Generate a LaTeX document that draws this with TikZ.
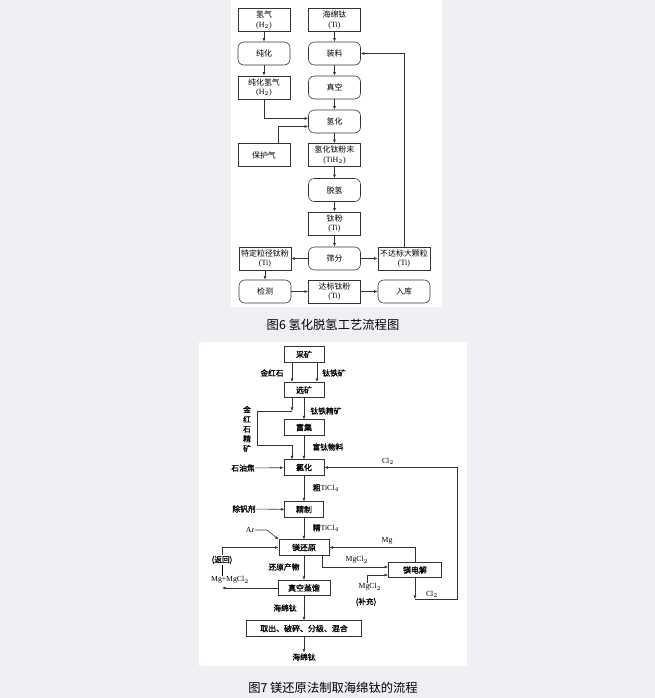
\documentclass[tikz,border=0pt]{standalone}
\usepackage{fontspec}
\setmainfont{Liberation Serif}
\newfontfamily\cjk{Noto Sans CJK SC}
\newfontfamily\cjkb[FakeBold=1.2]{Noto Sans CJK SC}
\usetikzlibrary{arrows.meta,positioning,calc}
\definecolor{bgc}{HTML}{EEF0F4}
\definecolor{ln}{HTML}{333333}
\newcommand{\latn}[1]{{\rmfamily #1}}

\tikzset{
  box/.style={draw=ln, line width=0.5pt, minimum width=1.56cm, minimum height=0.69cm, align=center, inner sep=1pt, font=\cjk\fontsize{6.8}{7.8}\selectfont},
  rbox/.style={box, rounded corners=5pt},
  sbox/.style={draw=ln, line width=0.6pt, minimum height=0.46cm, inner sep=1pt, font=\cjkb\fontsize{6.8}{7.5}\selectfont},
  lbl/.style={inner sep=0.5pt, align=center, font=\cjkb\fontsize{6.6}{7.4}\selectfont},
  arr/.style={draw=ln, line width=0.5pt, -{Latex[length=3pt,width=2.4pt]}},
  figcap/.style={font=\cjk\fontsize{10.5}{12}\selectfont},
}

\begin{document}
\begin{tikzpicture}[x=0.03cm, y=-0.03cm]
% background and panels
\fill[bgc] (0,0) rectangle (655,698);
\fill[white] (231,0) rectangle (442,307);
\fill[white] (199,342) rectangle (467,666);

% Figure 6: left column
\node[box] (h2) at (264,20) {氢气\\\latn{(H$_2$)}};
\node[rbox] (chun) at (264,53.5) {纯化};
\node[box] (chunh2) at (264,87.5) {纯化氢气\\\latn{(H$_2$)}};
\node[box] (baohu) at (264,155) {保护气};
\node[box] (teding) at (265,258.5) {特定粒径钛粉\\\latn{(Ti)}};
\node[rbox] (jiance) at (265,291.5) {检测};

% Figure 6: middle column
\node[box] (haimian) at (334.5,20) {海绵钛\\\latn{(Ti)}};
\node[rbox] (zhuang) at (334.5,53.5) {装料};
\node[rbox] (zhenkong) at (334.5,87.5) {真空};
\node[rbox] (qinghua) at (334.5,121.5) {氢化};
\node[box] (tih2) at (334.5,155) {氢化钛粉末\\\latn{(TiH$_2$)}};
\node[rbox] (tuoqing) at (334.5,190) {脱氢};
\node[box] (tifen) at (334.5,223.5) {钛粉\\\latn{(Ti)}};
\node[rbox] (shaifen) at (334.5,258.5) {筛分};
\node[box] (dabiao) at (334.5,291.5) {达标钛粉\\\latn{(Ti)}};

% Figure 6: right column
\node[box] (buda) at (404,258.5) {不达标大颗粒\\\latn{(Ti)}};
\node[rbox] (ruku) at (404,291.5) {入库};

\node[figcap] (cap1) at (333,325) {图6 氢化脱氢工艺流程图};

% Figure 6: connectors
\draw[arr] (h2) -- (chun);
\draw[arr] (chun) -- (chunh2);
\draw[arr] (haimian) -- (zhuang);
\draw[arr] (zhuang) -- (zhenkong);
\draw[arr] (zhenkong) -- (qinghua);
\draw[arr] (qinghua) -- (tih2);
\draw[arr] (tih2) -- (tuoqing);
\draw[arr] (tuoqing) -- (tifen);
\draw[arr] (tifen) -- (shaifen);
\draw[arr] (chunh2.south) |- (qinghua.west |- 0,118.5);
\draw[arr] (baohu.north -| 278,0) |- (qinghua.west |- 0,126.5);
\draw[arr] (shaifen) -- (teding);
\draw[arr] (shaifen) -- (buda);
\draw[arr] (teding) -- (jiance);
\draw[arr] (jiance) -- (dabiao);
\draw[arr] (dabiao) -- (ruku);
\draw[arr] (buda.north) |- (zhuang.east);

% Figure 7: main chain
\node[sbox, minimum width=1.2cm] (caikuang) at (304,354.5) {采矿};
\node[sbox, minimum width=1.2cm] (xuankuang) at (304,390) {选矿};
\node[sbox, minimum width=1.2cm] (fuji) at (304,427.5) {富集};
\node[sbox, minimum width=1.2cm] (lvhua) at (304,467.5) {氯化};
\node[sbox, minimum width=1.15cm] (jingzhi) at (304,509.5) {精制};
\node[sbox, minimum width=1.5cm] (mghy) at (304,547.5) {镁还原};
\node[sbox, minimum width=1.56cm] (zkzl) at (304,588) {真空蒸馏};
\node[sbox, minimum width=3.45cm] (quchu) at (304,628.5) {取出、破碎、分级、混合};
\node[sbox, minimum width=1.59cm] (mgdj) at (415,570) {镁电解};

% Figure 7: labels
\node[lbl] (jhs) at (272,373) {金红石};
\node[lbl] (ttk) at (334,373) {钛铁矿};
\node[lbl] (ttjk) at (326,411) {钛铁精矿};
\node[lbl, font=\cjkb\fontsize{6.6}{8.3}\selectfont] (jhsjk) at (247,429) {金\\红\\石\\精\\矿};
\node[lbl] (ftwl) at (328,447) {富钛物料};
\node[lbl] (syj) at (243,468) {石油焦};
\node[lbl] (cl2a) at (388,461) {\latn{Cl$_2$}};
\node[lbl] (cutic) at (326,488) {粗\latn{TiCl$_4$}};
\node[lbl] (cfj) at (244,509) {除钒剂};
\node[lbl] (jtic) at (326,528) {精\latn{TiCl$_4$}};
\node[lbl] (ar) at (250,530) {\latn{Ar}};
\node[lbl] (fanhui) at (222,560) {(返回)};
\node[lbl] (mgmg) at (230,580) {\latn{Mg+MgCl$_2$}};
\node[lbl] (hycw) at (284,567) {还原产物};
\node[lbl] (mgcla) at (357,560) {\latn{MgCl$_2$}};
\node[lbl] (mg) at (387,541) {\latn{Mg}};
\node[lbl] (mgclb) at (370,587) {\latn{MgCl$_2$}};
\node[lbl] (buchong) at (366,602) {(补充)};
\node[lbl] (cl2b) at (432,594) {\latn{Cl$_2$}};
\node[lbl] (hmt) at (285,608) {海绵钛};
\node[lbl] (hmtout) at (304,657) {海绵钛};

\node[figcap] (cap2) at (333,688) {图7 镁还原法制取海绵钛的流程};

% Figure 7: connectors
\coordinate (c1) at (292,411);
\coordinate (c2) at (257,411);
\coordinate (c3) at (257,445);
\coordinate (c5) at (415,599);
\coordinate (c6) at (457,599);
\draw[arr] (caikuang.south -| 292,0) -- (xuankuang.north -| 292,0);
\draw[arr] (caikuang.south -| 317,0) -- (xuankuang.north -| 317,0);
\draw[arr] (xuankuang.south -| c1) -- (c1);
\draw[arr] (c1) -- (c2) -- (c3) -| (lvhua.north -| c1);
\draw[arr] (xuankuang) -- (fuji);
\draw[arr] (fuji) -- (lvhua);
\draw[arr] (syj) -- (lvhua);
\draw[arr] (lvhua) -- (jingzhi);
\draw[arr] (cfj) -- (jingzhi);
\draw[arr] (jingzhi) -- (mghy);
\draw[arr] (ar.east) -- (267,530) -- (mghy.north west);
\draw[arr] (mghy) -- (zkzl);
\draw (fanhui.south) -- (mgmg.north -| fanhui);
\draw[arr] (fanhui.north) |- (mghy.west);
\draw[arr] (zkzl.west) -- (zkzl.west -| fanhui);
\draw[arr] (mghy.south -| 322,0) |- (mgdj.west |- 0,567);
\draw[arr] (mgdj.north) |- (mghy.east);
\draw[arr] (mgclb.north -| 367,0) |- (mgdj.west |- 0,575);
\draw[arr] (mgdj.south) -- (c5);
\draw[arr] (c5) -- (c6) |- (lvhua.east);
\draw[arr] (zkzl) -- (quchu);
\draw[arr] (quchu) -- (hmtout);

\end{tikzpicture}
\end{document}
